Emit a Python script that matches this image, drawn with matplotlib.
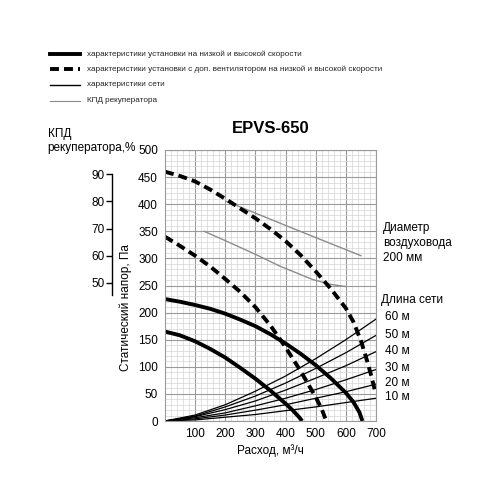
import matplotlib.pyplot as plt
from matplotlib.ticker import MultipleLocator

plt.rcParams['font.family'] = ['Liberation Sans', 'DejaVu Sans']

# fan curves (flow m3/h, pressure Pa)
q_low = [0, 50, 100, 150, 200, 250, 300, 350, 400, 425, 445, 455]
p_low = [165, 158, 147, 133, 117, 98, 78, 56, 32, 19, 7, 0]
q_high = [0, 50, 100, 150, 200, 250, 300, 350, 400, 450, 500, 550, 600, 625, 645, 655]
p_high = [225, 220, 214, 207, 198, 187, 175, 160, 143, 124, 103, 79, 52, 35, 16, 0]
q_dlow = [0, 50, 100, 150, 200, 250, 300, 350, 400, 450, 500, 520, 535]
p_dlow = [340, 323, 305, 285, 262, 238, 210, 176, 136, 92, 44, 22, 0]
q_dhigh = [0, 50, 100, 150, 200, 250, 300, 350, 400, 450, 500, 550, 600, 625, 650, 670, 685, 697]
p_dhigh = [460, 452, 442, 427, 410, 392, 374, 354, 332, 306, 276, 244, 208, 183, 148, 112, 82, 55]

# network curves for duct lengths
q_net = [0, 100, 200, 300, 400, 500, 600, 700]
net_lengths = ['10 м', '20 м', '30 м', '40 м', '50 м', '60 м']
p_net = [
    [0, 2, 7, 12, 19, 26, 34, 42],
    [0, 4, 11, 20, 30, 42, 54, 68],
    [0, 6, 15, 28, 42, 58, 76, 95],
    [0, 8, 21, 37, 57, 79, 102, 128],
    [0, 9, 26, 46, 70, 97, 126, 158],
    [0, 11, 30, 55, 83, 115, 150, 188],
]

# recuperator efficiency, %
q_eff_up = [205, 437, 650]
eff_up = [80, 69.5, 60]
q_eff_lo = [130, 215, 300, 380, 490, 550, 600]
eff_lo = [69, 64.8, 60.5, 56.2, 51.2, 49.4, 48.6]


def eff_to_p(e):
    return 5 * e + 5


def p_to_eff(p):
    return (p - 5) / 5


fig = plt.figure(figsize=(5, 5), dpi=100)
ax = fig.add_axes([0.33, 0.158, 0.422, 0.542])

ax.set_xlim(0, 700)
ax.set_ylim(0, 500)
ax.xaxis.set_major_locator(MultipleLocator(100))
ax.xaxis.set_minor_locator(MultipleLocator(20))
ax.yaxis.set_major_locator(MultipleLocator(50))
ax.yaxis.set_minor_locator(MultipleLocator(10))
ax.grid(which='major', color='#9a9a9a', lw=0.8)
ax.grid(which='minor', color='#d4d4d4', lw=0.5)
ax.set_axisbelow(True)
ax.tick_params(which='both', length=0, labelsize=8.5, pad=5)
ax.set_xticks([100, 200, 300, 400, 500, 600, 700])
for s in ax.spines.values():
    s.set_color('#9a9a9a')
    s.set_linewidth(0.8)

ax.set_xlabel('Расход, м³/ч', fontsize=8.5, labelpad=3)
ax.set_ylabel('Статический напор, Па', fontsize=8.5)
ax.yaxis.set_label_coords(-0.155, 0.42)
ax.set_title('EPVS-650', fontsize=12, fontweight='bold', pad=12)

for p in p_net:
    ax.plot(q_net, p, color='black', lw=0.9)

ax.plot(q_eff_up, [eff_to_p(e) for e in eff_up], color='#8c8c8c', lw=1.0)
ax.plot(q_eff_lo, [eff_to_p(e) for e in eff_lo], color='#8c8c8c', lw=1.0)

ax.plot(q_low, p_low, color='black', lw=2.8, solid_capstyle='butt')
ax.plot(q_high, p_high, color='black', lw=2.8, solid_capstyle='butt')
dash = (0, (2.3, 1.3))
ax.plot(q_dlow, p_dlow, color='black', lw=2.8, linestyle=dash)
ax.plot(q_dhigh, p_dhigh, color='black', lw=2.8, linestyle=dash)

# efficiency scale
sec = ax.secondary_yaxis(-0.252, functions=(p_to_eff, eff_to_p))
sec.set_yticks([50, 60, 70, 80, 90])
sec.spines['left'].set_bounds(45.5, 90)
sec.spines['left'].set_linewidth(1.0)
sec.tick_params(length=4, width=1.0, labelsize=8.5, pad=1)
fig.text(0.096, 0.732, 'КПД', fontsize=8.5, va='center')
fig.text(0.094, 0.703, 'рекуператора,%', fontsize=8.5, va='center')

# legend
legend_rows = [
    ('характеристики установки на низкой и высокой скорости', 'solid', 2.8, 'black'),
    ('характеристики установки с доп. вентилятором на низкой и высокой скорости', dash, 2.8, 'black'),
    ('характеристики сети', 'solid', 1.0, 'black'),
    ('КПД рекуператора', 'solid', 0.8, '#8c8c8c'),
]
ys = [0.892, 0.862, 0.830, 0.798]
for (txt, ls, lw, col), y in zip(legend_rows, ys):
    fig.add_artist(plt.Line2D([0.100, 0.160], [y, y], color=col, lw=lw,
                              linestyle=ls, transform=fig.transFigure))
    fig.text(0.174, y, txt, fontsize=5.9, va='center', color='#222222')

# right side annotations
fig.text(0.766, 0.544, 'Диаметр', fontsize=8.5, va='center')
fig.text(0.766, 0.514, 'воздуховода', fontsize=8.5, va='center')
fig.text(0.766, 0.484, '200 мм', fontsize=8.5, va='center')
fig.text(0.762, 0.400, 'Длина сети', fontsize=8.5, va='center')
label_y = [0.206, 0.234, 0.264, 0.298, 0.330, 0.366]
for name, y in zip(net_lengths, label_y):
    fig.text(0.770, y, name, fontsize=8.5, va='center')

fig.savefig('out.png', dpi=100, facecolor='white')
